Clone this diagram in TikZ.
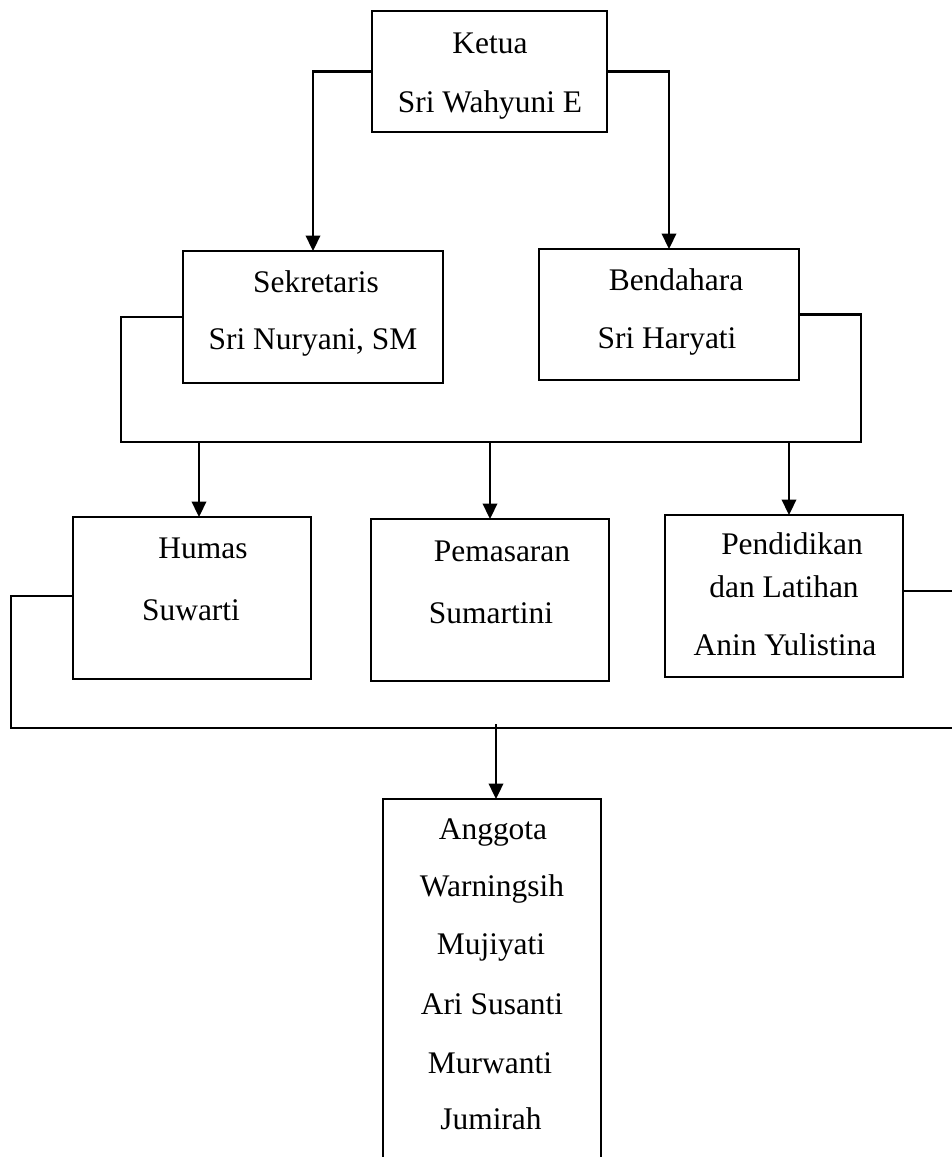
\documentclass[tikz,border=0pt]{standalone}
\usepackage{fontspec}
\setmainfont{Liberation Serif}
\usetikzlibrary{calc}
\usetikzlibrary{arrows.meta}
\tikzstyle{box}=[draw, line width=1pt, rectangle, inner sep=0pt, outer sep=0pt]
\tikzstyle{conn}=[line width=1.2pt]
\tikzstyle{arr}=[line width=1.2pt, -{Triangle[length=0.31cm,width=0.29cm]}]
\tikzstyle{txt}=[anchor=base, inner sep=0pt, font=\fontsize{17.9}{21}\selectfont]

\begin{document}
\begin{tikzpicture}[x=0.02cm, y=-0.02cm]
	\useasboundingbox (0,0) rectangle (952,1157);
	%\draw[help lines, step=50] (0,0) grid (952,1157);

	\node[box, minimum width=4.7cm, minimum height=2.42cm] (ketua) at (489.5,71.5) {};%top
	\node[box, minimum width=5.2cm, minimum height=2.64cm] (sekr) at (313,317) {};
	\node[box, minimum width=5.2cm, minimum height=2.62cm] (bend) at (669,314.5) {};
	\node[box, minimum width=4.76cm, minimum height=3.24cm] (humas) at (192,598) {};
	\node[box, minimum width=4.76cm, minimum height=3.24cm] (pemas) at (490,600) {};
	\node[box, minimum width=4.76cm, minimum height=3.24cm] (pend) at (784,596) {};
	\node[box, minimum width=4.36cm, minimum height=7.52cm] (anggota) at (492,987) {};%runs off the page

	\node[txt] (ketuaA) at (490,53) {Ketua};
	\node[txt] (ketuaB) at (490,112) {Sri Wahyuni E};
	\node[txt] (sekrA) at (316,292) {Sekretaris};
	\node[txt] (sekrB) at (313,349) {Sri Nuryani, SM};
	\node[txt] (bendA) at (676,290) {Bendahara};
	\node[txt] (bendB) at (667,348) {Sri Haryati};
	\node[txt] (humasA) at (203,558) {Humas};
	\node[txt] (humasB) at (191,620) {Suwarti};
	\node[txt] (pemasA) at (502,561) {Pemasaran};
	\node[txt] (pemasB) at (491,623) {Sumartini};
	\node[txt] (pendA) at (792,554) {Pendidikan};
	\node[txt] (pendB) at (784,597) {dan Latihan};
	\node[txt] (pendC) at (785,655) {Anin Yulistina};
	\node[txt] (angA) at (493,839) {Anggota};
	\node[txt] (angB) at (492,896) {Warningsih};
	\node[txt] (angC) at (491,954) {Mujiyati};
	\node[txt] (angD) at (492,1014) {Ari Susanti};
	\node[txt] (angE) at (490,1073) {Murwanti};
	\node[txt] (angF) at (491,1129) {Jumirah};

	\draw[arr] (ketua.west) -| (sekr.north);
	\draw[arr] (ketua.east) -| (bend.north);

	\coordinate (busL) at (121,442);
	\coordinate (busR) at (861,442);
	\draw[conn] (sekr.west) -| (busL) -- (busR) |- (bend.east);%upper bus
	\draw[arr] ([xshift=0.14cm]humas.north |- busL) -- ([xshift=0.14cm]humas.north);
	\draw[arr] (pemas.north |- busL) -- (pemas.north);
	\draw[arr] ([xshift=0.1cm]pend.north |- busL) -- ([xshift=0.1cm]pend.north);

	\coordinate (bus2L) at (11,728);
	\coordinate (bus2R) at (965,728);
	\draw[conn] ([yshift=0.04cm]humas.west) -| (bus2L) -- (bus2R) |- ([yshift=0.1cm]pend.east);%lower bus
	\draw[arr] ([xshift=0.08cm, yshift=0.08cm]anggota.north |- bus2L) -- ([xshift=0.08cm]anggota.north);
\end{tikzpicture}
\end{document}
